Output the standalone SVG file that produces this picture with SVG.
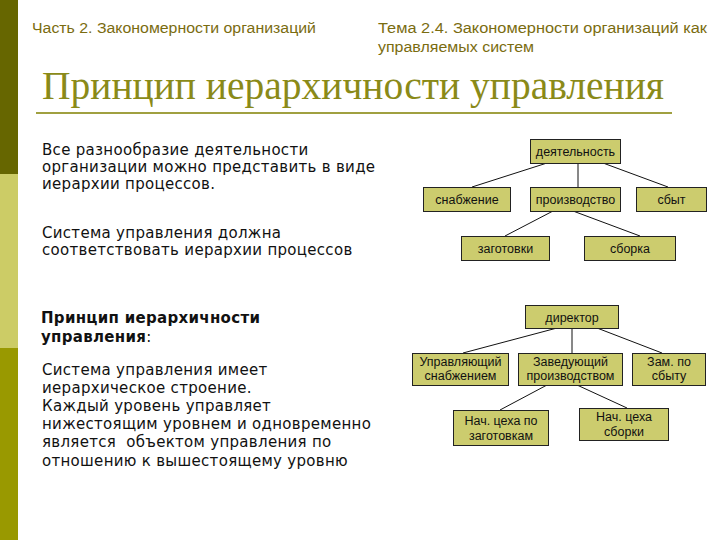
<svg xmlns="http://www.w3.org/2000/svg" width="720" height="540" viewBox="0 0 720 540">
<style>
.hdr{font-family:"Liberation Sans",Arial,sans-serif;font-size:14px;fill:#7a6c10}
.ttl{font-family:"Liberation Serif","Times New Roman",serif;font-size:40px;fill:#8a8a18}
.body{font-family:"DejaVu Sans",Verdana,sans-serif;font-size:15px;letter-spacing:0.3px;fill:#111}
.bold{font-weight:bold}
.box{fill:#cccc6e;stroke:#222;stroke-width:1}
.lbl{font-family:"Liberation Sans",Arial,sans-serif;font-size:12.5px;fill:#111;text-anchor:middle}
.con line{stroke:#111;stroke-width:1}
</style>
<rect x="0" y="0" width="720" height="540" fill="#ffffff"/>
<rect x="0" y="0" width="18" height="174" fill="#666600"/>
<rect x="0" y="174" width="18" height="174" fill="#cccc66"/>
<rect x="0" y="348" width="18" height="192" fill="#999900"/>

<text class="hdr" x="32" y="33" textLength="284" lengthAdjust="spacingAndGlyphs">Часть 2. Закономерности организаций</text>
<text class="hdr" x="378" y="33" textLength="329" lengthAdjust="spacingAndGlyphs">Тема 2.4. Закономерности организаций как</text>
<text class="hdr" x="378" y="52" textLength="156" lengthAdjust="spacingAndGlyphs">управляемых систем</text>

<text class="ttl" x="42" y="99" textLength="622" lengthAdjust="spacingAndGlyphs">Принцип иерархичности управления</text>
<rect x="36" y="112" width="636" height="2" fill="#a0a040"/>

<g id="left-text">
<text class="body" x="42" y="155">Все разнообразие деятельности</text>
<text class="body" x="42" y="172">организации можно представить в виде</text>
<text class="body" x="42" y="189">иерархии процессов.</text>
<text class="body" x="42" y="238">Система управления должна</text>
<text class="body" x="42" y="255">соответствовать иерархии процессов</text>
<text class="body bold" x="41" y="323">Принцип иерархичности</text>
<text class="body" x="41" y="342"><tspan class="bold">управления</tspan>:</text>
<text class="body" x="42" y="375">Система управления имеет</text>
<text class="body" x="42" y="393">иерархическое строение.</text>
<text class="body" x="42" y="411">Каждый уровень управляет</text>
<text class="body" x="42" y="429">нижестоящим уровнем и одновременно</text>
<text class="body" x="42" y="447" xml:space="preserve">является  объектом управления по</text>
<text class="body" x="42" y="466">отношению к вышестоящему уровню</text>
</g>

<g id="connectors" class="con">
<line x1="547" y1="163" x2="472" y2="187"/>
<line x1="578" y1="163" x2="578" y2="187"/>
<line x1="603" y1="163" x2="668" y2="187"/>
<line x1="553" y1="211" x2="505" y2="236"/>
<line x1="573" y1="211" x2="640" y2="236"/>
<line x1="557" y1="328" x2="463" y2="353"/>
<line x1="572" y1="328" x2="572" y2="353"/>
<line x1="597" y1="328" x2="662" y2="353"/>
<line x1="547" y1="385" x2="500" y2="410"/>
<line x1="577" y1="385" x2="627" y2="408"/>
</g>

<g id="n-activity"><rect class="box" x="530.5" y="139.5" width="90" height="24"/><text class="lbl" x="575.5" y="156">деятельность</text></g>
<g id="n-supply"><rect class="box" x="423.5" y="187.5" width="87" height="24"/><text class="lbl" x="467" y="204">снабжение</text></g>
<g id="n-production"><rect class="box" x="530.5" y="187.5" width="90" height="24"/><text class="lbl" x="575.5" y="204">производство</text></g>
<g id="n-sales"><rect class="box" x="636.5" y="187.5" width="70" height="24"/><text class="lbl" x="671.5" y="204">сбыт</text></g>
<g id="n-blanks"><rect class="box" x="461.5" y="236.5" width="88" height="24"/><text class="lbl" x="505.5" y="253">заготовки</text></g>
<g id="n-assembly"><rect class="box" x="584.5" y="236.5" width="91" height="24"/><text class="lbl" x="630" y="253">сборка</text></g>

<g id="n-director"><rect class="box" x="525.5" y="305.5" width="93" height="23"/><text class="lbl" x="572" y="321.5">директор</text></g>
<g id="n-supply-mgr"><rect class="box" x="412.5" y="353.5" width="96" height="32"/><text class="lbl" x="460.5" y="366">Управляющий</text><text class="lbl" x="460.5" y="380">снабжением</text></g>
<g id="n-prod-head"><rect class="box" x="518.5" y="353.5" width="104" height="32"/><text class="lbl" x="570.5" y="366">Заведующий</text><text class="lbl" x="570.5" y="380">производством</text></g>
<g id="n-sales-dep"><rect class="box" x="632.5" y="353.5" width="73" height="32"/><text class="lbl" x="669" y="366">Зам. по</text><text class="lbl" x="669" y="380">сбыту</text></g>
<g id="n-blanks-head"><rect class="box" x="453.5" y="410.5" width="95" height="35"/><text class="lbl" x="501" y="425">Нач. цеха по</text><text class="lbl" x="501" y="440">заготовкам</text></g>
<g id="n-assembly-head"><rect class="box" x="579.5" y="408.5" width="89" height="32"/><text class="lbl" x="624" y="421">Нач. цеха</text><text class="lbl" x="624" y="436">сборки</text></g>
</svg>
